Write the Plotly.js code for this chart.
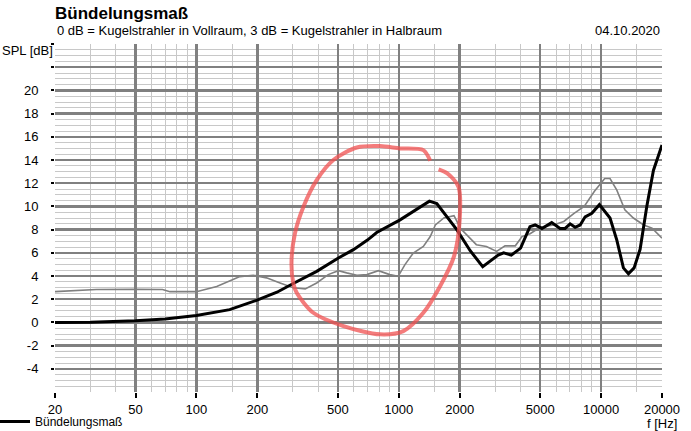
<!DOCTYPE html>
<html>
<head>
<meta charset="utf-8">
<script src="https://cdn.plot.ly/plotly-3.0.1.min.js"></script>
<style>
  body { margin: 0; background: #fff; }
</style>
</head>
<body>
<div id="chart"></div>
<script>
// Bündelungsmaß (black)
var blackFreq = [20, 30, 50, 70, 100, 146, 198, 250, 301, 393, 503, 597, 700, 778, 1015, 1227, 1417, 1542, 1700, 1935, 2250, 2600, 3100, 3300, 3600, 4000, 4450, 4720, 5100, 5700, 6270, 6640, 7030, 7440, 7880, 8340, 9000, 9810, 11070, 11960, 12890, 13650, 14560, 15590, 16820, 18140, 20000];
var blackDb = [0, 0.02, 0.15, 0.3, 0.6, 1.1, 1.9, 2.6, 3.35, 4.4, 5.55, 6.27, 7.1, 7.75, 8.84, 9.76, 10.45, 10.25, 9.3, 8.0, 6.2, 4.8, 5.8, 6.0, 5.8, 6.4, 8.25, 8.4, 8.1, 8.6, 8.1, 8.1, 8.5, 8.2, 8.4, 9.1, 9.4, 10.15, 9.0, 7.1, 4.7, 4.2, 4.7, 6.3, 10.0, 13.1, 15.3];

// second (gray) curve
var grayFreq = [20, 32, 50, 68, 74, 100, 126, 164, 191, 222, 259, 301, 345, 393, 448, 503, 553, 621, 696, 793, 903, 993, 1073, 1180, 1323, 1431, 1517, 1670, 1875, 2020, 2418, 2712, 3046, 3350, 3768, 4065, 4457, 5000, 5810, 6540, 7350, 8250, 9270, 10420, 11070, 11960, 13100, 14440, 16230, 17860, 20000];
var grayDb = [2.65, 2.83, 2.85, 2.83, 2.65, 2.65, 3.1, 3.95, 4.06, 3.84, 3.4, 2.98, 2.89, 3.4, 4.12, 4.46, 4.27, 4.06, 4.12, 4.46, 4.12, 3.97, 4.98, 5.98, 6.55, 7.4, 8.4, 9.0, 9.2, 8.1, 6.7, 6.55, 6.12, 6.6, 6.6, 7.4, 7.64, 8.2, 8.4, 8.7, 9.4, 10.0, 11.3, 12.4, 12.4, 11.4, 9.7, 9.0, 8.4, 8.13, 7.27];

// red hand drawn circle
var circleFreq = [1431, 1323, 1015, 808, 621, 475, 393, 338, 307, 295, 301, 313, 378, 533, 808, 1053, 1323, 1600, 1875, 2000, 1973, 1737, 1574];
var circleDb = [13.93, 14.85, 15.0, 15.2, 15.08, 14.0, 12.27, 9.98, 7.7, 5.12, 3.4, 2.55, 0.83, -0.32, -1.03, -0.75, 0.83, 3.12, 5.69, 8.84, 11.7, 12.85, 13.2];

var xTicks = [20, 50, 100, 200, 500, 1000, 2000, 5000, 10000, 20000];
var xMinor = [30, 40, 60, 70, 80, 90, 150, 300, 400, 600, 700, 800, 900, 1500, 3000, 4000, 6000, 7000, 8000, 9000, 15000];
var yTicks = [-4, -2, 0, 2, 4, 6, 8, 10, 12, 14, 16, 18, 20, 22, 24];
var yLabels = ['-4', '-2', '0', '2', '4', '6', '8', '10', '12', '14', '16', '18', '20', '', ''];

var yMinor = [];
for (var v = -5.5; v < 24; v += 0.5) {
  if (v % 2 != 0) yMinor.push(v);
}

var fnt = 'Liberation Sans, Arial, sans-serif';

var data = [
  {
    x: grayFreq, y: grayDb,
    type: 'scatter', mode: 'lines',
    line: { color: '#808080', width: 1.6 },
    showlegend: false, hoverinfo: 'skip'
  },
  {
    x: blackFreq, y: blackDb,
    type: 'scatter', mode: 'lines',
    name: 'Bündelungsmaß',
    line: { color: '#000000', width: 3 }
  },
  {
    x: circleFreq, y: circleDb,
    type: 'scatter', mode: 'lines',
    line: { color: 'rgba(240, 80, 80, 0.75)', width: 4, shape: 'spline', smoothing: 0.8 },
    showlegend: false, hoverinfo: 'skip'
  }
];

var layout = {
  width: 691,
  height: 431,
  margin: { l: 55, r: 29, t: 44, b: 39, autoexpand: false },
  paper_bgcolor: '#ffffff',
  plot_bgcolor: '#ffffff',
  font: { family: fnt, size: 13, color: '#000' },
  title: {
    text: '<b>Bündelungsmaß</b>',
    font: { family: fnt, size: 17, color: '#000' },
    xref: 'container', x: 55 / 691, xanchor: 'left',
    yref: 'container', y: 1 - 13 / 431, yanchor: 'middle'
  },
  xaxis: {
    type: 'log',
    automargin: false,
    range: [Math.log10(20), Math.log10(20000)],
    tickmode: 'array',
    tickvals: xTicks,
    ticktext: xTicks.map(String),
    ticks: 'outside', ticklen: 5, tickwidth: 2, tickcolor: '#000',
    showgrid: true, gridcolor: '#808080', gridwidth: 2.5,
    zeroline: false, showline: false,
    minor: { tickmode: 'array', tickvals: xMinor, showgrid: true, gridcolor: '#c8c8c8', gridwidth: 1, ticks: '' },
    tickfont: { family: fnt, size: 13, color: '#000' }
  },
  yaxis: {
    automargin: false,
    range: [-6, 24],
    tickmode: 'array',
    tickvals: yTicks,
    ticktext: yLabels,
    ticks: 'outside', ticklen: 3, tickwidth: 2, tickcolor: '#000',
    ticklabelstandoff: 10,
    showgrid: true, gridcolor: '#808080', gridwidth: 2.5,
    zeroline: false, showline: false,
    minor: { tickmode: 'array', tickvals: yMinor, showgrid: true, gridcolor: '#c8c8c8', gridwidth: 1, ticks: '' },
    tickfont: { family: fnt, size: 13, color: '#000' }
  },
  showlegend: true,
  legend: {
    x: -60 / 607, xanchor: 'left',
    y: -15 / 348, yanchor: 'top',
    font: { family: fnt, size: 12, color: '#000' },
    bgcolor: 'rgba(0,0,0,0)'
  },
  annotations: [
    { text: '0 dB = Kugelstrahler in Vollraum, 3 dB = Kugelstrahler in Halbraum', xref: 'paper', yref: 'paper',
      x: 0, xanchor: 'left', y: 1 + 14 / 348, yanchor: 'middle', showarrow: false,
      font: { family: fnt, size: 13, color: '#000' } },
    { text: '04.10.2020', xref: 'paper', yref: 'paper',
      x: 1, xanchor: 'right', y: 1 + 14 / 348, yanchor: 'middle', showarrow: false,
      font: { family: fnt, size: 13, color: '#000' } },
    { text: 'SPL [dB]', xref: 'paper', yref: 'paper',
      x: -55 / 607, xanchor: 'left', y: 1 - 6 / 348, yanchor: 'middle', showarrow: false,
      font: { family: fnt, size: 13, color: '#000' } },
    { text: 'f [Hz]', xref: 'paper', yref: 'paper',
      x: 1, xanchor: 'center', y: -31 / 348, yanchor: 'middle', showarrow: false,
      font: { family: fnt, size: 13, color: '#000' } }
  ]
};

Plotly.newPlot('chart', data, layout, { displayModeBar: false, staticPlot: true });
</script>
</body>
</html>
